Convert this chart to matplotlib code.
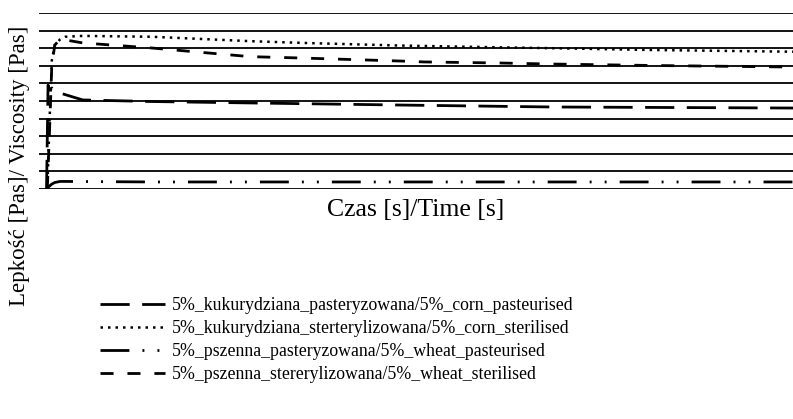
import matplotlib.pyplot as plt

plt.rcParams['font.family'] = ['Liberation Serif', 'DejaVu Serif']

# czas [s] / wartości lepkości (jednostki siatki)
t_corn_past = [10, 12, 14, 17, 21, 28, 58, 150, 280, 480, 680, 1000]
v_corn_past = [0.0, 5.9, 5.63, 5.74, 5.51, 5.45, 5.06, 4.97, 4.89, 4.77, 4.66, 4.6]

t_corn_ster = [11, 14, 17, 21, 28, 35, 58, 150, 280, 350, 480, 610, 680, 810, 1000]
v_corn_ster = [0.0, 3.9, 7.3, 8.2, 8.5, 8.65, 8.7, 8.65, 8.4, 8.3, 8.15, 8.05, 8.0, 7.9, 7.8]

t_wheat_past = [10, 14, 17, 21, 28, 35, 150, 480, 1000]
v_wheat_past = [0.0, 0.17, 0.28, 0.37, 0.43, 0.43, 0.4, 0.4, 0.4]

t_wheat_ster = [11, 14, 17, 21, 28, 35, 58, 150, 280, 350, 480, 510, 610, 680, 810, 1000]
v_wheat_ster = [0.0, 3.35, 7.05, 8.18, 8.52, 8.47, 8.3, 8.01, 7.52, 7.44, 7.27, 7.22, 7.16, 7.1, 7.02, 6.93]

labels = ["5%_kukurydziana_pasteryzowana/5%_corn_pasteurised",
          "5%_kukurydziana_sterterylizowana/5%_corn_sterilised",
          "5%_pszenna_pasteryzowana/5%_wheat_pasteurised",
          "5%_pszenna_stererylizowana/5%_wheat_sterilised"]

fig = plt.figure(figsize=(7.93, 4.19), dpi=100)
ax = fig.add_axes([39/793, 1 - 189/419, 1 - 39/793, 176/419])

lw = 2.0
l1, = ax.plot(t_corn_past, v_corn_past, color='black', lw=lw, dashes=(10.5, 4.5), label=labels[0])
l2, = ax.plot(t_corn_ster, v_corn_ster, color='black', lw=1.8, dashes=(1, 2), label=labels[1])
l3, = ax.plot(t_wheat_past, v_wheat_past, color='black', lw=lw,
              dashes=(10.4, 4.7, 0.7, 4.7, 0.7, 4.7), label=labels[2])
l4, = ax.plot(t_wheat_ster, v_wheat_ster, color='black', lw=lw, dashes=(4.7, 5), label=labels[3])

ax.set_xlim(0, 1000)
ax.set_ylim(0, 10)
ax.set_yticks(range(0, 11))
ax.set_xticks([])
ax.tick_params(axis='y', length=0, labelleft=False)
ax.grid(axis='y', color='black', lw=1.3)
for s in ax.spines.values():
    s.set_visible(False)
ax.set_axisbelow(True)

ax.set_xlabel("Czas [s]/Time [s]", fontsize=18.5)
ax.xaxis.set_label_coords(0.5, -0.055)
ax.xaxis.label.set_va('top')
ax.set_ylabel("Lepkość [Pas]/ Viscosity [Pas]", fontsize=16.5)
ax.yaxis.set_label_coords(-0.012, (189 - 166) / 176)

fig.legend(handles=[l1, l2, l3, l4], loc='upper left', bbox_to_anchor=(100/793, 1 - 297/419),
           frameon=False, fontsize=12.8, handlelength=3.65, handletextpad=0.4,
           labelspacing=0.34, borderpad=0, borderaxespad=0)

plt.savefig("out.png", dpi=100)
